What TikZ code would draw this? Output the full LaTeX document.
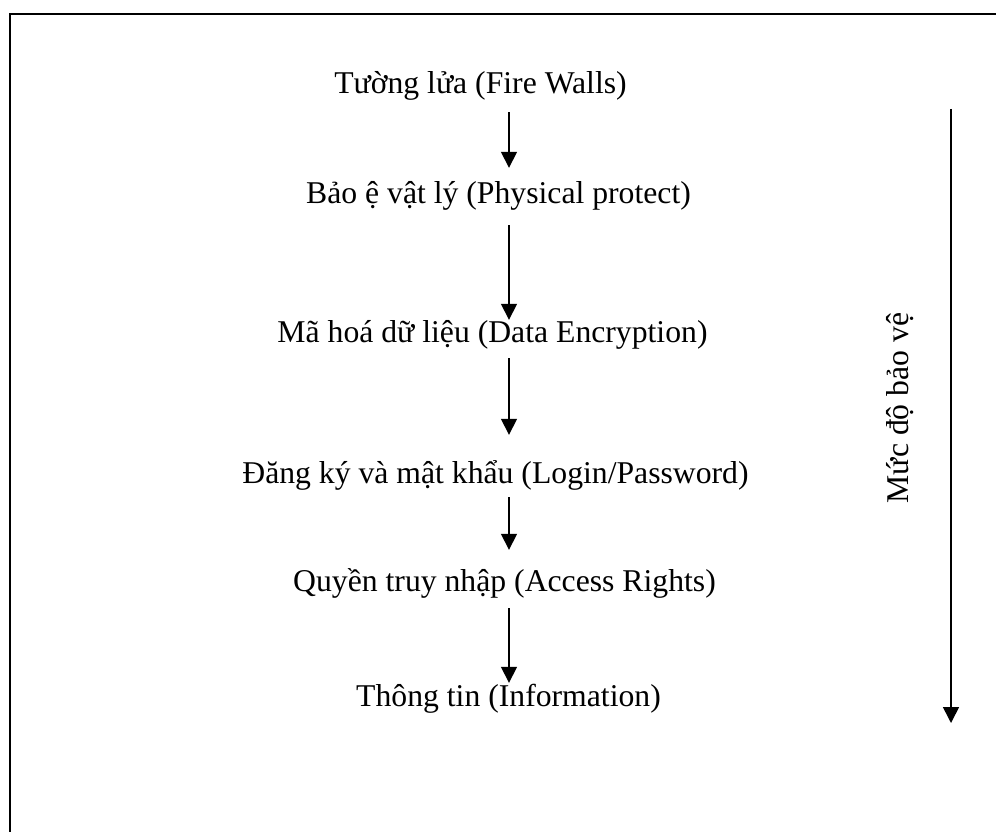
\documentclass[tikz,border=0pt]{standalone}
\usepackage{fontspec}
\setmainfont{Liberation Serif}
\usetikzlibrary{arrows.meta}

\tikzset{
    layer/.style={
        inner sep=0pt,
        anchor=base,
        text height=24pt,
        text depth=8pt,
        font=\fontsize{31.7}{38}\selectfont},
    flow/.style={
        line width=1.6pt,
        -{Triangle[width=16pt,length=16pt]}},
}

\begin{document}
\begin{tikzpicture}[x=1pt, y=-1pt]
    \useasboundingbox (0,0) rectangle (996,832);
    \draw[line width=2pt] (9.7,14) rectangle (1020,860);

    \coordinate (axis) at (509,0);

    \node[layer] (fw) at (480.5,94) {Tường lửa (Fire Walls)};
    \node[layer] (pp) at (498.5,204) {Bảo ệ vật lý (Physical protect)};
    \node[layer] (de) at (492.5,342) {Mã hoá dữ liệu (Data Encryption)};
    \node[layer] (lp) at (495.5,483) {Đăng ký và mật khẩu (Login/Password)};
    \node[layer] (ar) at (504.5,591) {Quyền truy nhập (Access Rights)};
    \node[layer] (inf) at (508.5,706) {Thông tin (Information)};

    \draw[flow, shorten <=10pt, shorten >=12pt] (fw.south -| axis) -- (pp.north -| axis);
    \draw[flow, shorten <=13pt, shorten >=-2pt] (pp.south -| axis) -- (de.north -| axis);
    \draw[flow, shorten <=8pt, shorten >=24pt] (de.south -| axis) -- (lp.north -| axis);
    \draw[flow, shorten <=6pt, shorten >=17pt] (lp.south -| axis) -- (ar.north -| axis);
    \draw[flow, shorten <=9pt, shorten >=-1pt] (ar.south -| axis) -- (inf.north -| axis);

    % muc do bao ve
    \coordinate (lvtop) at (951,109);
    \coordinate (lvbot) at (951,723);
    \draw[flow] (lvtop) -- (lvbot);
    \node[
        layer,
        rotate=90]
        (level) at (908,408) {Mức độ bảo vệ};
\end{tikzpicture}
\end{document}
